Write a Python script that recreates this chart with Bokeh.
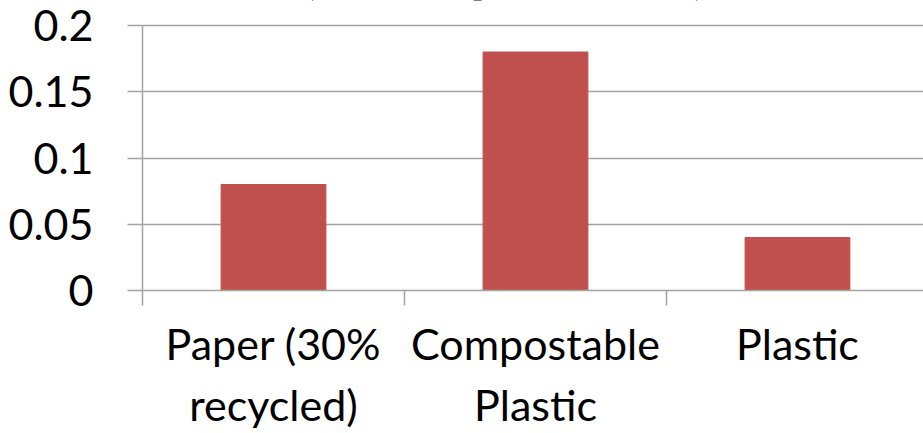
from bokeh.plotting import figure
from bokeh.models import Range1d, FixedTicker, ColumnDataSource
from bokeh.core.properties import value
from bokeh.embed import file_html
from bokeh.resources import INLINE

# Bag types and their values
categories = ["Paper (30%\nrecycled)", "Compostable\nPlastic", "Plastic"]
values = [0.08, 0.18, 0.04]

y_ticks = [0, 0.05, 0.1, 0.15, 0.2]
y_tick_labels = ["0", "0.05", "0.1", "0.15", "0.2"]

title_text = "(kWh per unit)"

BAR_COLOR = "#C0504D"
GRID_COLOR = "#a3a3a3"
FONT = "Lato"

centers = [i + 0.5 for i in range(len(categories))]
boundaries = list(range(len(categories)))

source = ColumnDataSource(data=dict(x=centers, top=values))

p = figure(
    width=923, height=433,
    x_range=Range1d(0, 2.981),
    y_range=Range1d(0, 0.21887),
    output_backend="svg",
    toolbar_location=None,
    min_border_left=142, min_border_right=0,
    min_border_top=0, min_border_bottom=143,
)
p.outline_line_color = None
p.background_fill_color = "white"

p.vbar(x="x", top="top", width=0.4, bottom=0, source=source,
       fill_color=BAR_COLOR, line_color=BAR_COLOR)

# Title, running off the top edge
p.text(x=[0.605], y=[0.2443], text=[title_text],
       text_font=value(FONT), text_font_style="bold", text_font_size="64px",
       text_align="left", text_baseline="alphabetic", text_color="black")

# y axis
p.yaxis.ticker = FixedTicker(ticks=y_ticks)
p.yaxis.major_label_overrides = {t: l for t, l in zip(y_ticks, y_tick_labels)}
p.yaxis.bounds = (0, 0.2)
p.yaxis.axis_line_color = GRID_COLOR
p.yaxis.axis_line_width = 1.5
p.yaxis.major_tick_line_color = GRID_COLOR
p.yaxis.major_tick_line_width = 1.5
p.yaxis.major_tick_out = 15
p.yaxis.major_tick_in = 0
p.yaxis.minor_tick_line_color = None
p.yaxis.major_label_standoff = 34
p.yaxis.major_label_text_font = FONT
p.yaxis.major_label_text_font_size = "43px"
p.yaxis.major_label_text_color = "black"

# x axis: labels at category centres, ticks at category boundaries
p.xaxis.ticker = FixedTicker(ticks=centers, minor_ticks=boundaries)
p.xaxis.major_label_overrides = {c: l for c, l in zip(centers, categories)}
p.xaxis.axis_line_color = GRID_COLOR
p.xaxis.axis_line_width = 1.5
p.xaxis.major_tick_line_color = None
p.xaxis.major_tick_out = 0
p.xaxis.major_tick_in = 0
p.xaxis.minor_tick_line_color = GRID_COLOR
p.xaxis.minor_tick_line_width = 1.5
p.xaxis.minor_tick_out = 15
p.xaxis.minor_tick_in = 0
p.xaxis.major_label_standoff = 12
p.xaxis.major_label_text_font = FONT
p.xaxis.major_label_text_font_size = "43px"
p.xaxis.major_label_text_color = "black"

p.xgrid.grid_line_color = None
p.ygrid.grid_line_color = GRID_COLOR
p.ygrid.grid_line_width = 1.5

open("out.html", "w").write(file_html(p, INLINE))
